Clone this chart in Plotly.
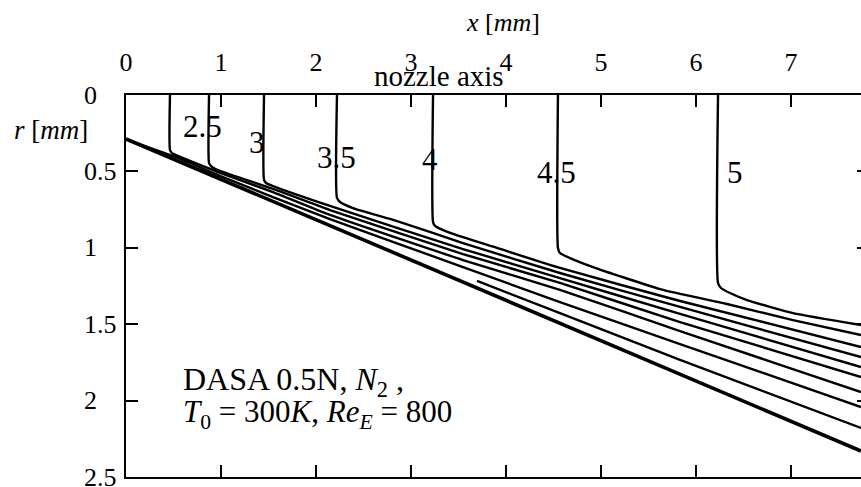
import plotly.graph_objects as go

# ---------------- data (x in mm, r in mm) ----------------
x_tick_vals = [0, 1, 2, 3, 4, 5, 6, 7]
r_tick_vals = [0, 0.5, 1, 1.5, 2, 2.5]
r_tick_text = ["0", "0.5", "1", "1.5", "2", "2.5"]

wall_x = [0.0, 7.737]
wall_r = [0.288, 2.330]

short_x = [3.695, 4.568, 5.832, 7.737]
short_r = [1.217, 1.427, 1.734, 2.179]

m15_x = [0.0, 0.547, 0.968, 1.547, 2.147, 3.547, 4.568, 5.832, 7.737]
m15_r = [0.29, 0.412, 0.524, 0.668, 0.812, 1.126, 1.355, 1.630, 2.042]

m20_x = [0.463, 0.463, 0.484, 0.547, 0.968, 1.547, 2.147, 3.547, 4.568, 5.832, 7.737]
m20_r = [0.0, 0.360, 0.380, 0.399, 0.504, 0.635, 0.785, 1.080, 1.276, 1.545, 1.944]

m25_x = [0.874, 0.874, 0.895, 0.968, 1.547, 2.147, 3.547, 4.568, 5.832, 7.737]
m25_r = [0.0, 0.445, 0.465, 0.491, 0.615, 0.753, 1.041, 1.230, 1.486, 1.846]

m30_x = [1.453, 1.453, 1.474, 1.547, 2.147, 3.547, 4.568, 5.832, 7.737]
m30_r = [0.0, 0.556, 0.576, 0.596, 0.726, 1.008, 1.198, 1.433, 1.780]

m35_x = [2.221, 2.221, 2.253, 2.389, 2.853, 3.547, 4.568, 5.832, 7.737]
m35_r = [0.0, 0.674, 0.700, 0.740, 0.825, 0.969, 1.165, 1.387, 1.715]

m40_x = [3.232, 3.232, 3.253, 3.411, 3.905, 4.568, 5.832, 7.737]
m40_r = [0.0, 0.831, 0.857, 0.903, 1.001, 1.132, 1.348, 1.649]

m45_x = [4.547, 4.547, 4.568, 4.674, 4.916, 5.621, 6.326, 7.021, 7.737]
m45_r = [0.0, 1.001, 1.034, 1.067, 1.126, 1.270, 1.368, 1.473, 1.571]

m50_x = [6.232, 6.232, 6.263, 6.358, 6.537, 7.021, 7.737]
m50_r = [0.0, 1.230, 1.263, 1.296, 1.342, 1.427, 1.505]

label_text = ["2.5", "3", "3.5", "4", "4.5", "5"]
label_x = [0.80, 1.38, 2.22, 3.20, 4.53, 6.41]
label_r = [0.203, 0.314, 0.406, 0.425, 0.504, 0.504]

# ---------------- figure ----------------
FONT = "Liberation Serif"
fig = go.Figure()

contours = [(m15_x, m15_r), (m20_x, m20_r), (m25_x, m25_r), (m30_x, m30_r),
            (m35_x, m35_r), (m40_x, m40_r), (m45_x, m45_r), (m50_x, m50_r),
            (short_x, short_r)]
for cx, cr in contours:
    fig.add_trace(go.Scatter(x=cx, y=cr, mode="lines",
                             line=dict(color="black", width=2.4,
                                       shape="spline", smoothing=0.5),
                             hoverinfo="skip"))

fig.add_trace(go.Scatter(x=wall_x, y=wall_r, mode="lines", yaxis="y2",
                         line=dict(color="black", width=3.6), hoverinfo="skip"))

annotations = []
for t, lx, lr in zip(label_text, label_x, label_r):
    annotations.append(dict(x=lx, y=lr, xref="x", yref="y", text=t, showarrow=False,
                            font=dict(family=FONT, size=31, color="black")))

for v, t in zip(r_tick_vals, r_tick_text):
    annotations.append(dict(x=-0.0599, y=v, xref="paper", yref="y", text=t,
                            showarrow=False, xanchor="left", yanchor="middle",
                            font=dict(family=FONT, size=26, color="black")))

annotations += [
    dict(x=(503 - 126) / 735, xref="paper", y=1.0, yref="paper", yanchor="middle",
         yshift=73, text="<i>x</i> [<i>mm</i>]", showarrow=False,
         font=dict(family=FONT, size=26, color="black")),
    dict(x=-0.0599 - 70 / 735, xref="paper", xanchor="left", y=0.23, yref="y",
         text="<i>r</i> [<i>mm</i>]", showarrow=False,
         font=dict(family=FONT, size=27, color="black")),
    dict(x=3.3, y=0.0, xref="x", yref="y", yanchor="bottom", yshift=1,
         text="nozzle axis", showarrow=False,
         font=dict(family=FONT, size=29, color="black")),
    dict(x=0.58, y=1.872, xref="x", yref="y", xanchor="left",
         text="DASA 0.5N, <i>N</i><sub>2</sub> ,", showarrow=False,
         font=dict(family=FONT, size=32, color="black")),
    dict(x=0.58, y=2.085, xref="x", yref="y", xanchor="left",
         text="<i>T</i><sub>0</sub> = 300<i>K</i>, <i>Re</i><sub><i>E</i></sub> = 800",
         showarrow=False, font=dict(family=FONT, size=31, color="black")),
]

fig.update_layout(
    width=861, height=487,
    margin=dict(l=126, r=0, t=95, b=10),
    paper_bgcolor="white", plot_bgcolor="white",
    showlegend=False,
    annotations=annotations,
    xaxis=dict(side="top", range=[0, 7.737], tickvals=x_tick_vals,
               ticks="inside", ticklen=12, tickwidth=2, tickcolor="black",
               showline=True, linewidth=2, linecolor="black", mirror="ticks",
               showgrid=False, zeroline=False, ticklabelstandoff=12,
               tickfont=dict(family=FONT, size=26, color="black")),
    yaxis=dict(range=[2.5, 0], tickvals=r_tick_vals, showticklabels=False,
               ticks="inside", ticklen=12, tickwidth=2, tickcolor="black",
               showline=True, linewidth=2, linecolor="black", mirror=False,
               showgrid=False, zeroline=False),
    yaxis2=dict(overlaying="y", side="right", matches="y", range=[2.5, 0],
                tickvals=[0.5, 1, 1.5, 2], showticklabels=False,
                ticks="inside", ticklen=4, tickwidth=2, tickcolor="black",
                showline=False, showgrid=False, zeroline=False),
)

fig.write_html("out.html")
